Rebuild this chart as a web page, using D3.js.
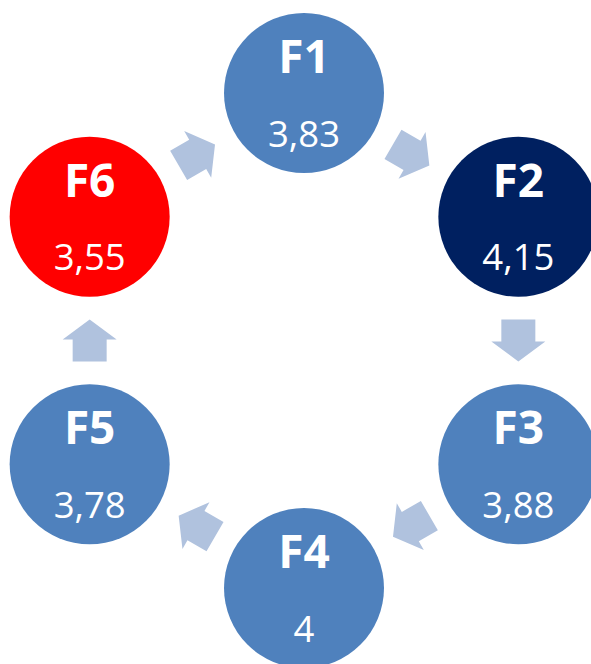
<!DOCTYPE html>
<html>
<head>
<meta charset="utf-8">
<script src="https://cdn.jsdelivr.net/npm/d3@7"></script>
<style>
  html, body { margin: 0; padding: 0; background: #ffffff; }
  svg { display: block; }
</style>
</head>
<body>
<svg id="chart" width="591" height="664"></svg>
<script>
const labels = ["F1", "F2", "F3", "F4", "F5", "F6"];
const values = [3.83, 4.15, 3.88, 4, 3.78, 3.55];
const nodeColors = ["#4F81BD", "#002060", "#4F81BD", "#4F81BD", "#4F81BD", "#FF0000"];
const arrowColor = "#B0C2DE";

const W = 591, H = 664;
const cx = 304, cy = 340.5, R = 247.5, r = 80;

const svg = d3.select("#chart");
const locale = d3.formatLocale({ decimal: ",", thousands: ".", grouping: [3], currency: ["", ""] });
const fmt = v => locale.format("~f")(v);

// angle scale: node index -> angle (degrees), starting at top, clockwise
const angle = d3.scaleLinear().domain([0, labels.length]).range([-90, 270]);
const pos = i => {
  const a = angle(i) * Math.PI / 180;
  return [cx + R * Math.cos(a), cy + R * Math.sin(a)];
};

const nodes = labels.map((l, i) => ({ label: l, value: values[i], color: nodeColors[i], p: pos(i) }));

// arrows between consecutive nodes
const arrowPath = "M-21,-17 L1,-17 L1,-27 L21,0 L1,27 L1,17 L-21,17 Z";
const arrows = nodes.map((n, i) => {
  const a = n.p, b = nodes[(i + 1) % nodes.length].p;
  return { x: (a[0] + b[0]) / 2, y: (a[1] + b[1]) / 2,
           rot: Math.atan2(b[1] - a[1], b[0] - a[0]) * 180 / Math.PI };
});

svg.append("g").selectAll("path").data(arrows).join("path")
  .attr("d", arrowPath)
  .attr("fill", arrowColor)
  .attr("transform", d => `translate(${d.x},${d.y}) rotate(${d.rot})`);

const g = svg.append("g").selectAll("g").data(nodes).join("g")
  .attr("transform", d => `translate(${d.p[0]},${d.p[1]})`);

g.append("circle").attr("r", r).attr("fill", d => d.color);

g.append("text")
  .attr("y", -20)
  .attr("text-anchor", "middle")
  .attr("font-family", "'Open Sans', sans-serif")
  .attr("font-weight", "bold")
  .attr("font-size", 46)
  .attr("fill", "#ffffff")
  .text(d => d.label);

g.append("text")
  .attr("y", 53.5)
  .attr("text-anchor", "middle")
  .attr("font-family", "'Open Sans', sans-serif")
  .attr("font-size", 36.5)
  .attr("fill", "#ffffff")
  .text(d => fmt(d.value));
</script>
</body>
</html>
